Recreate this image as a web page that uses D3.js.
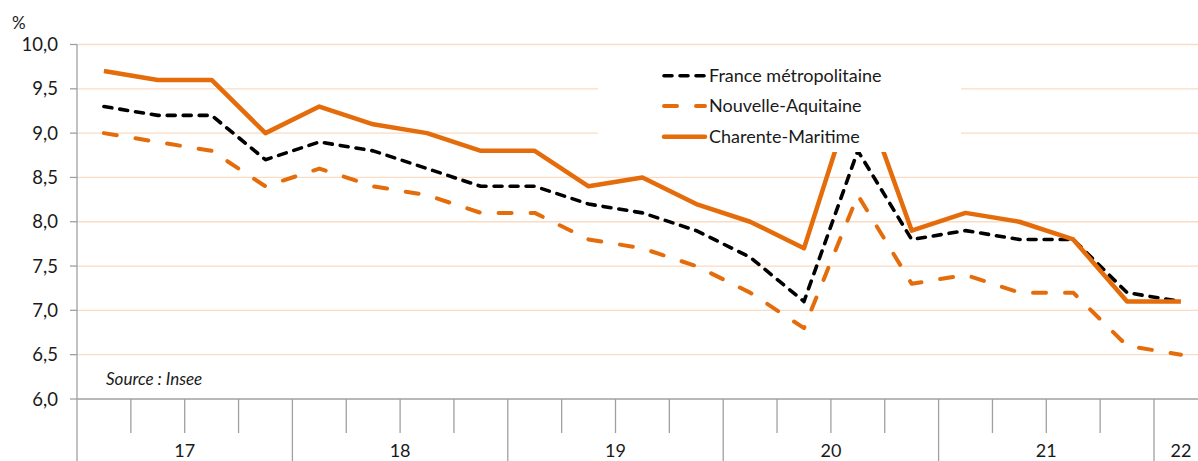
<!DOCTYPE html>
<html><head><meta charset="utf-8">
<script src="https://cdn.jsdelivr.net/npm/d3@7"></script>
<style>
html,body{margin:0;padding:0;background:#fff;}
svg{display:block;font-family:Lato,sans-serif;}
</style></head>
<body><svg id="c" width="1198" height="461"></svg>
<script>
const quarters = ["2017T1","2017T2","2017T3","2017T4","2018T1","2018T2","2018T3","2018T4","2019T1","2019T2","2019T3","2019T4","2020T1","2020T2","2020T3","2020T4","2021T1","2021T2","2021T3","2021T4","2022T1"];
const years = ["17","18","19","20","21","22"];
const france = [9.3,9.2,9.2,8.7,8.9,8.8,8.6,8.4,8.4,8.2,8.1,7.9,7.6,7.1,8.8,7.8,7.9,7.8,7.8,7.2,7.1];
const nouvelleAquitaine = [9.0,8.9,8.8,8.4,8.6,8.4,8.3,8.1,8.1,7.8,7.7,7.5,7.2,6.8,8.3,7.3,7.4,7.2,7.2,6.6,6.5];
const charente = [9.7,9.6,9.6,9.0,9.3,9.1,9.0,8.8,8.8,8.4,8.5,8.2,8.0,7.7,9.6,7.9,8.1,8.0,7.8,7.1,7.1];
const yTicks = [6.0,6.5,7.0,7.5,8.0,8.5,9.0,9.5,10.0];
const seriesNames = ["France métropolitaine","Nouvelle-Aquitaine","Charente-Maritime"];

const ORANGE = "#E46C0A";
const svg = d3.select("#c");
const x = d3.scaleBand().domain(quarters).range([77, 77 + 21*53.85]).padding(0);
const y = d3.scaleLinear().domain([6,10]).range([399, 44.5]);
const fmt = v => d3.format(".1f")(v).replace(".", ",");

// gridlines
svg.append("g").selectAll("line").data(yTicks.filter(v=>v>6)).join("line")
  .attr("x1",77).attr("x2",1198).attr("y1",d=>y(d)).attr("y2",d=>y(d))
  .attr("stroke","#FADBC4").attr("stroke-width",1.3);

// y axis
const ya = svg.append("g");
ya.append("line").attr("x1",77).attr("x2",77).attr("y1",y(10)).attr("y2",y(6)).attr("stroke","#A0A0A0").attr("stroke-width",1.3);
ya.selectAll(".t").data(yTicks).join("line").attr("x1",70).attr("x2",77).attr("y1",d=>y(d)).attr("y2",d=>y(d)).attr("stroke","#A0A0A0").attr("stroke-width",1.3);
ya.selectAll("text").data(yTicks).join("text").attr("x",58).attr("y",d=>y(d)).attr("dy","0.36em")
  .attr("text-anchor","end").attr("font-size",18.5).attr("fill","#1a1a1a").text(fmt);
svg.append("text").attr("x",12).attr("y",29).attr("font-size",17).attr("fill","#1a1a1a").text("%");

// x axis
const xa = svg.append("g");
xa.append("line").attr("x1",77).attr("x2",1198).attr("y1",399).attr("y2",399).attr("stroke","#A0A0A0").attr("stroke-width",1.3);
quarters.forEach((q,i)=>{
  const bx = x(q);
  const major = q.endsWith("T1");
  xa.append("line").attr("x1",bx).attr("x2",bx).attr("y1",399).attr("y2",major?461:433)
    .attr("stroke","#A0A0A0").attr("stroke-width",1.3);
});
years.forEach(yr=>{
  const qs = quarters.filter(q=>q.slice(2,4)===yr);
  const cx = (x(qs[0]) + x(qs[qs.length-1]) + x.bandwidth())/2;
  xa.append("text").attr("x",cx).attr("y",457).attr("text-anchor","middle").attr("font-size",18).attr("fill","#1a1a1a").text(yr);
});

// lines
const line = d3.line().x((d,i)=>x(quarters[i])+x.bandwidth()/2).y(d=>y(d));
svg.append("path").datum(nouvelleAquitaine).attr("d",line).attr("fill","none").attr("stroke",ORANGE)
  .attr("stroke-width",4).attr("stroke-dasharray","13,19").attr("stroke-linecap","round").attr("stroke-linejoin","round");
svg.append("path").datum(france).attr("d",line).attr("fill","none").attr("stroke","#000")
  .attr("stroke-width",3.6).attr("stroke-dasharray","8,8").attr("stroke-linecap","round").attr("stroke-linejoin","round");
svg.append("path").datum(charente).attr("d",line).attr("fill","none").attr("stroke",ORANGE)
  .attr("stroke-width",4.5).attr("stroke-linejoin","round");

// source
svg.append("text").attr("x",106).attr("y",385).attr("font-size",17).attr("font-style","italic").attr("fill","#1a1a1a").text("Source : Insee");

// legend
const lg = svg.append("g");
lg.append("rect").attr("x",598).attr("y",52).attr("width",363).attr("height",100).attr("fill","#fff");
const styles = [
  {stroke:"#000", w:3.6, dash:"8,8", cap:"round"},
  {stroke:ORANGE, w:4, dash:"13,19", cap:"round"},
  {stroke:ORANGE, w:4.5, dash:null, cap:"round"}
];
const rowY = [75.7,106,136.7];
seriesNames.forEach((n,i)=>{
  const s = styles[i];
  const l = lg.append("line").attr("x1",664).attr("x2",705).attr("y1",rowY[i]).attr("y2",rowY[i])
    .attr("stroke",s.stroke).attr("stroke-width",s.w).attr("stroke-linecap",s.cap);
  if (s.dash) l.attr("stroke-dasharray",s.dash);
  lg.append("text").attr("x",709).attr("y",rowY[i]).attr("dy","0.36em").attr("font-size",18).attr("fill","#1a1a1a").text(n);
});
</script></body></html>
